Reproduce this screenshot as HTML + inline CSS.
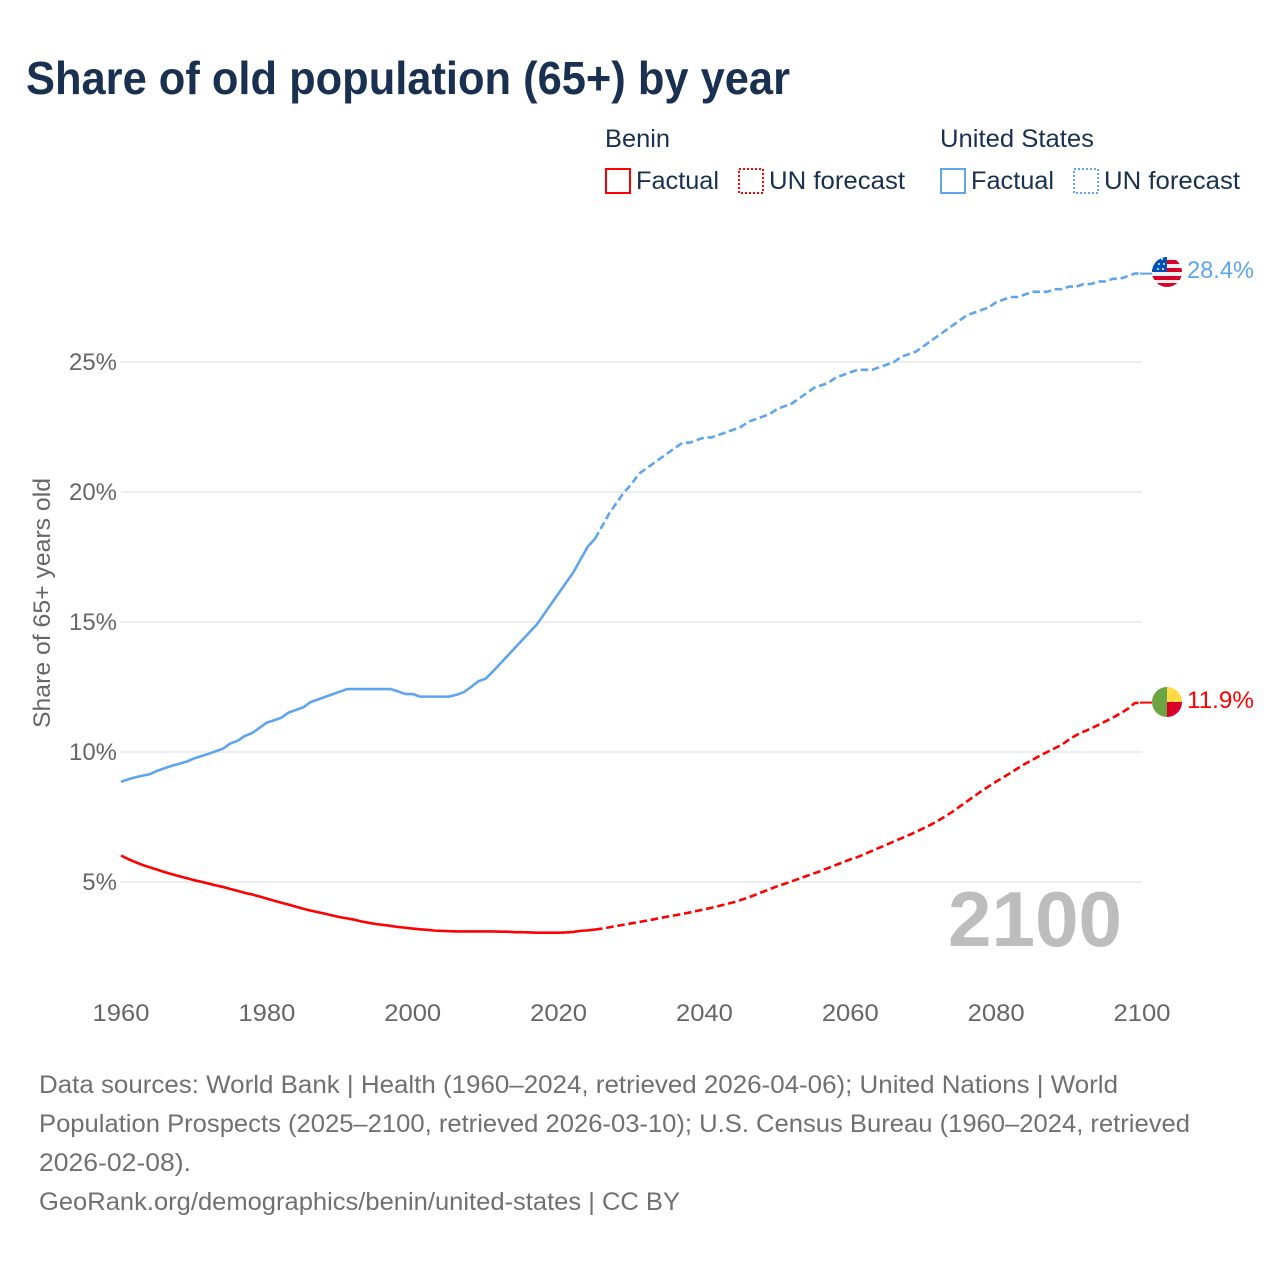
<!DOCTYPE html>
<html lang="en">
<head>
<meta charset="utf-8">
<title>Share of old population (65+) by year</title>
<style>
html,body{margin:0;padding:0;background:#fff;width:1280px;height:1280px;overflow:hidden}
svg{display:block;font-family:"Liberation Sans",sans-serif}
.title{font-size:46px;font-weight:700;fill:#1a3050}
.leg{font-size:25px;fill:#1a3050}
.foot{font-size:25px;fill:#707070}
.axis{font-size:24px;fill:#666}
</style>
</head>
<body>
<svg id="chart" width="1280" height="1280" viewBox="0 0 1280 1280" xmlns="http://www.w3.org/2000/svg">
  <defs>
    <clipPath id="flag-clip-us"><circle cx="1167" cy="272" r="15"/></clipPath>
    <clipPath id="flag-clip-bj"><circle cx="1167" cy="702" r="15"/></clipPath>
  </defs>
  <rect width="1280" height="1280" fill="#fff"/>
  <text class="title" x="26" y="94" textLength="764" lengthAdjust="spacingAndGlyphs">Share of old population (65+) by year</text>

  <g>
    <text class="leg" x="605" y="147" textLength="65" lengthAdjust="spacingAndGlyphs">Benin</text>
    <text class="leg" x="940" y="147" textLength="154" lengthAdjust="spacingAndGlyphs">United States</text>
    <rect x="606" y="169" width="24" height="24" fill="none" stroke="#ff0000" stroke-width="2"/>
    <text class="leg" x="636" y="189" textLength="83" lengthAdjust="spacingAndGlyphs">Factual</text>
    <rect x="739" y="169" width="24" height="24" fill="none" stroke="#ff0000" stroke-width="2" stroke-dasharray="2 2"/>
    <text class="leg" x="769" y="189" textLength="136" lengthAdjust="spacingAndGlyphs">UN forecast</text>
    <rect x="941" y="169" width="24" height="24" fill="none" stroke="#5ea5ee" stroke-width="2"/>
    <text class="leg" x="971" y="189" textLength="83" lengthAdjust="spacingAndGlyphs">Factual</text>
    <rect x="1074" y="169" width="24" height="24" fill="none" stroke="#5ea5ee" stroke-width="2" stroke-dasharray="2 2"/>
    <text class="leg" x="1104" y="189" textLength="136" lengthAdjust="spacingAndGlyphs">UN forecast</text>
  </g>

  <text class="axis" transform="translate(50,728) rotate(-90)" textLength="250" lengthAdjust="spacingAndGlyphs">Share of 65+ years old</text>
  <g id="grid"></g>
  <g id="yticks"></g>
  <g id="xticks"></g>

  <text x="948" y="946" font-size="78" font-weight="700" fill="#bdbdbd" textLength="174" lengthAdjust="spacingAndGlyphs">2100</text>

  <g id="series"></g>

  <g clip-path="url(#flag-clip-us)">
    <rect x="1152" y="257" width="30" height="30" fill="#f0f0f0"/>
    <rect x="1152" y="260" width="30" height="4" fill="#d80027"/>
    <rect x="1152" y="268" width="30" height="4" fill="#d80027"/>
    <rect x="1152" y="276" width="30" height="4" fill="#d80027"/>
    <rect x="1152" y="283" width="30" height="4" fill="#d80027"/>
    <rect x="1152" y="257" width="15" height="15" fill="#0052b4"/>
    <circle cx="1158" cy="269" r="1" fill="#f0f0f0"/>
    <circle cx="1163" cy="269" r="1" fill="#f0f0f0"/>
    <circle cx="1159" cy="264" r="1" fill="#f0f0f0"/>
    <circle cx="1164" cy="264" r="1" fill="#f0f0f0"/>
    <circle cx="1162" cy="259" r="1" fill="#f0f0f0"/>
  </g>
  <text x="1187" y="278" font-size="24" fill="#5ea5ee" textLength="67" lengthAdjust="spacingAndGlyphs">28.4%</text>

  <g clip-path="url(#flag-clip-bj)">
    <rect x="1152" y="687" width="15" height="30" fill="#6da544"/>
    <rect x="1167" y="687" width="15" height="15" fill="#ffda44"/>
    <rect x="1167" y="702" width="15" height="15" fill="#d80027"/>
  </g>
  <text x="1187" y="708" font-size="24" fill="#ff0000" textLength="67" lengthAdjust="spacingAndGlyphs">11.9%</text>

  <g>
    <text class="foot" x="39" y="1093" textLength="1079" lengthAdjust="spacingAndGlyphs">Data sources: World Bank | Health (1960–2024, retrieved 2026-04-06); United Nations | World</text>
    <text class="foot" x="39" y="1132" textLength="1151" lengthAdjust="spacingAndGlyphs">Population Prospects (2025–2100, retrieved 2026-03-10); U.S. Census Bureau (1960–2024, retrieved</text>
    <text class="foot" x="39" y="1171" textLength="152" lengthAdjust="spacingAndGlyphs">2026-02-08).</text>
    <text class="foot" x="39" y="1210" textLength="641" lengthAdjust="spacingAndGlyphs">GeoRank.org/demographics/benin/united-states | CC BY</text>
  </g>
</svg>

<script>
var xTickYears = [1960, 1980, 2000, 2020, 2040, 2060, 2080, 2100];
var yTickValues = [5, 10, 15, 20, 25];
var factualStartYear = 1960;
var forecastStartYear = 2025;

var usFactual = [8.85,8.95,9.03,9.09,9.15,9.28,9.38,9.47,9.55,9.63,9.75,9.84,9.93,10.03,10.13,10.33,10.43,10.62,10.73,10.93,11.13,11.22,11.32,11.52,11.62,11.72,11.92,12.02,12.12,12.22,12.32,12.42,12.42,12.42,12.42,12.42,12.42,12.42,12.33,12.23,12.23,12.13,12.13,12.13,12.13,12.13,12.2,12.3,12.5,12.72,12.82,13.1,13.4,13.7,14.0,14.3,14.6,14.9,15.3,15.7,16.1,16.5,16.9,17.4,17.9,18.2];
var usForecast = [18.2,18.7,19.2,19.6,20.0,20.3,20.7,20.9,21.1,21.3,21.5,21.7,21.9,21.9,22.0,22.1,22.1,22.2,22.3,22.4,22.5,22.7,22.8,22.9,23.0,23.2,23.3,23.4,23.6,23.8,24.0,24.1,24.2,24.4,24.5,24.6,24.7,24.7,24.7,24.8,24.9,25.0,25.2,25.3,25.4,25.6,25.8,26.0,26.2,26.4,26.6,26.8,26.9,27.0,27.1,27.3,27.4,27.5,27.5,27.6,27.7,27.7,27.7,27.8,27.8,27.9,27.9,28.0,28.0,28.1,28.1,28.2,28.2,28.3,28.4,28.4];
var beninFactual = [6.02,5.88,5.76,5.65,5.56,5.47,5.38,5.30,5.22,5.15,5.07,5.01,4.94,4.87,4.81,4.73,4.66,4.58,4.52,4.44,4.36,4.28,4.20,4.13,4.05,3.97,3.90,3.84,3.78,3.71,3.65,3.60,3.55,3.48,3.43,3.38,3.35,3.31,3.27,3.24,3.21,3.18,3.16,3.13,3.12,3.11,3.10,3.10,3.10,3.10,3.10,3.10,3.09,3.09,3.07,3.07,3.06,3.05,3.05,3.05,3.05,3.06,3.08,3.12,3.14,3.17];
var beninForecast = [3.17,3.21,3.26,3.31,3.36,3.41,3.46,3.51,3.56,3.62,
  3.67,3.72,3.77,3.83,3.89,3.95,4.01,4.08,4.15,4.22,
  4.31,4.40,4.51,4.62,4.73,4.84,4.93,5.03,5.13,5.23,
  5.33,5.43,5.54,5.65,5.76,5.87,5.96,6.08,6.20,6.32,
  6.44,6.56,6.68,6.80,6.93,7.06,7.20,7.35,7.52,7.70,
  7.90,8.10,8.30,8.50,8.68,8.86,9.03,9.20,9.38,9.55,
  9.70,9.86,10.00,10.14,10.28,10.48,10.65,10.78,10.90,11.04,
  11.18,11.32,11.48,11.65,11.88,11.90];

var NS = 'http://www.w3.org/2000/svg';
var RED = '#ff0000';
var BLUE = '#5ea5ee';

function xScale(year) { return 121 + (year - 1960) * (1142 - 121) / 140; }
function yScale(value) { return 1012 - value * 26; }

function seriesPath(values, startYear) {
  var d = '';
  for (var i = 0; i < values.length; i++) {
    d += (i ? 'L' : 'M') + xScale(startYear + i).toFixed(2) + ' ' + yScale(values[i]).toFixed(2);
  }
  return d;
}

function fitText(el, scale) {
  el.setAttribute('textLength', (el.getComputedTextLength() * scale).toFixed(1));
  el.setAttribute('lengthAdjust', 'spacingAndGlyphs');
}

var grid = document.getElementById('grid');
var yTicks = document.getElementById('yticks');
var xTicks = document.getElementById('xticks');
var seriesGroup = document.getElementById('series');

yTickValues.forEach(function (v) {
  var line = document.createElementNS(NS, 'line');
  
  
  line.setAttribute('x1', xScale(1960));
  line.setAttribute('x2', xScale(2100));
  line.setAttribute('y1', yScale(v));
  line.setAttribute('y2', yScale(v));
  line.setAttribute('stroke', '#e9e9e9');
  line.setAttribute('stroke-width', '1.5');
  grid.appendChild(line);

  var label = document.createElementNS(NS, 'text');
  
  
  label.setAttribute('class', 'axis');
  label.setAttribute('x', 117);
  label.setAttribute('y', yScale(v) + 8);
  label.setAttribute('text-anchor', 'end');
  label.textContent = v + '%';
  yTicks.appendChild(label);
  fitText(label, 1.0);
});

xTickYears.forEach(function (year) {
  var label = document.createElementNS(NS, 'text');
  
  
  label.setAttribute('class', 'axis');
  label.setAttribute('x', xScale(year));
  label.setAttribute('y', 1021);
  label.setAttribute('text-anchor', 'middle');
  label.textContent = year;
  xTicks.appendChild(label);
  fitText(label, 1.065);
});

function drawSeries(name, values, startYear, color, dashed) {
  var path = document.createElementNS(NS, 'path');
  
  
  path.setAttribute('d', seriesPath(values, startYear));
  path.setAttribute('fill', 'none');
  path.setAttribute('stroke', color);
  path.setAttribute('stroke-width', '2.6');
  path.setAttribute('stroke-linejoin', 'round');
  if (dashed) path.setAttribute('stroke-dasharray', '7.5 3.8');
  seriesGroup.appendChild(path);
}

function drawConnector(name, values, color) {
  var last = values[values.length - 1];
  var line = document.createElementNS(NS, 'line');
  
  
  line.setAttribute('x1', xScale(2100) - 2);
  line.setAttribute('x2', xScale(2100) + 10);
  line.setAttribute('y1', yScale(last));
  line.setAttribute('y2', yScale(last));
  line.setAttribute('stroke', color);
  line.setAttribute('stroke-width', '2');
  seriesGroup.appendChild(line);
}

drawSeries('us-factual-line', usFactual, factualStartYear, BLUE, false);
drawSeries('us-forecast-line', usForecast, forecastStartYear, BLUE, true);
drawSeries('benin-factual-line', beninFactual, factualStartYear, RED, false);
drawSeries('benin-forecast-line', beninForecast, forecastStartYear, RED, true);
drawConnector('us-flag-connector', usForecast, BLUE);
drawConnector('benin-flag-connector', beninForecast, RED);
</script>
</body>
</html>
